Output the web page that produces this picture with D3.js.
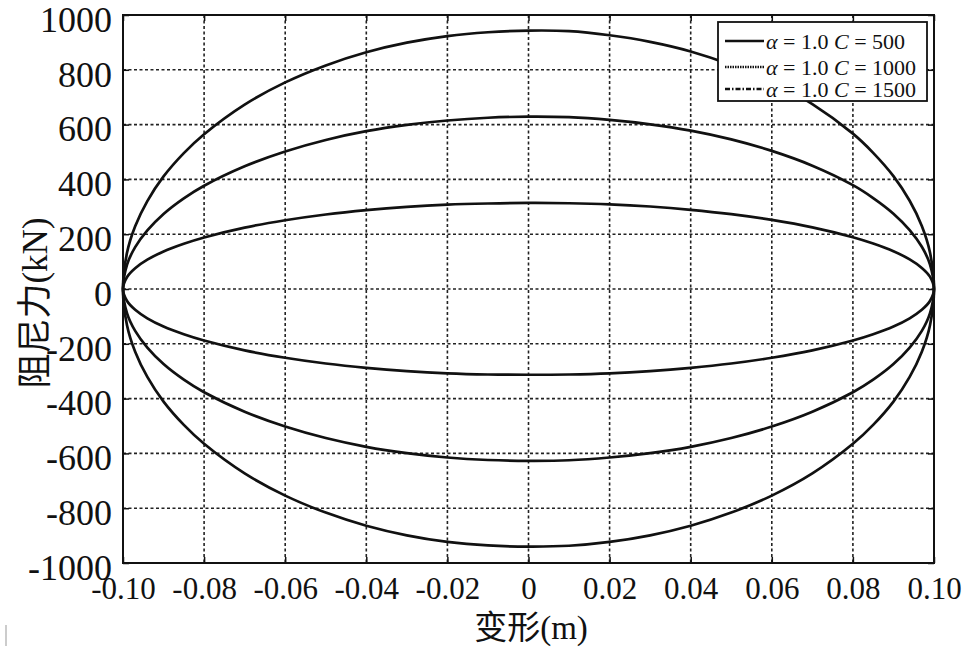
<!DOCTYPE html>
<html>
<head>
<meta charset="utf-8">
<script src="https://cdn.jsdelivr.net/npm/d3@7"></script>
<style>
  body { margin: 0; background: #fff; }
  svg { display: block; }
  text { font-family: "Liberation Serif", "Times New Roman", "Noto Sans CJK SC", serif; fill: #111; }
  .grid line { stroke: #222; stroke-width: 1.6; stroke-dasharray: 3,2.5; }
  .curve { fill: none; stroke: #111; stroke-width: 2.7; }
</style>
</head>
<body>
<svg width="965" height="650"></svg>
<script>
// deformation (m), read along the upper and lower branches
let xVals = [-0.1, -0.099, -0.097, -0.094, -0.09, -0.085, -0.08, -0.07, -0.06, -0.05, -0.04, -0.03, -0.02, -0.01,
  0, 0.01, 0.02, 0.03, 0.04, 0.05, 0.06, 0.07, 0.08, 0.085, 0.09, 0.094, 0.097, 0.099, 0.1];

// damping force (kN), upper branch
let c500Up = [0, 44, 76, 107, 137, 165, 188, 224, 251, 272, 288, 300, 308, 312,
  314, 313, 309, 301, 289, 273, 252, 225, 189, 166, 138, 108, 77, 45, 0];
let c1000Up = [0, 89, 153, 214, 274, 331, 377, 448, 502, 544, 576, 599, 615, 625,
  629, 627, 617, 601, 578, 546, 504, 450, 379, 332, 275, 215, 154, 90, 0];
let c1500Up = [0, 133, 229, 321, 411, 496, 565, 673, 754, 816, 864, 899, 923, 937,
  943, 941, 926, 902, 867, 818, 756, 675, 567, 497, 412, 322, 230, 134, 0];
// damping force (kN), lower branch
let c500Dn = [0, -44, -76, -107, -137, -165, -188, -224, -251, -272, -288, -300, -308, -312,
  -313, -312, -308, -300, -288, -272, -251, -224, -188, -165, -137, -107, -76, -44, 0];
let c1000Dn = [0, -89, -153, -214, -274, -331, -377, -448, -502, -544, -576, -599, -615, -624,
  -627, -625, -615, -599, -576, -544, -502, -448, -377, -331, -274, -214, -153, -89, 0];
let c1500Dn = [0, -133, -229, -321, -411, -496, -565, -673, -754, -816, -864, -899, -923, -936,
  -940, -937, -923, -899, -864, -816, -754, -673, -565, -496, -411, -321, -229, -133, 0];

let xTicks = [-0.1, -0.08, -0.06, -0.04, -0.02, 0, 0.02, 0.04, 0.06, 0.08, 0.1];
let yTicks = [-1000, -800, -600, -400, -200, 0, 200, 400, 600, 800, 1000];
let legendLabels = ["500", "1000", "1500"];
let legendDash = ["none", "1.5,1", "5,2,1.5,2"];

let serif = "'Liberation Serif', 'Times New Roman', 'Noto Sans CJK SC', serif";

let svg = d3.select("svg"),
    margin = {left: 123, top: 15, right: 31, bottom: 87},
    width = 965 - margin.left - margin.right,
    height = 650 - margin.top - margin.bottom;

let x = d3.scaleLinear().domain([-0.1, 0.1]).range([margin.left, margin.left + width]);
let y = d3.scaleLinear().domain([-1000, 1000]).range([margin.top + height, margin.top]);

// grid
let grid = svg.append("g").attr("class", "grid");
grid.selectAll(".gx").data(xTicks.slice(1, -1)).enter().append("line")
    .attr("x1", d => x(d)).attr("x2", d => x(d))
    .attr("y1", margin.top).attr("y2", margin.top + height);
grid.selectAll(".gy").data(yTicks.slice(1, -1)).enter().append("line")
    .attr("y1", d => y(d)).attr("y2", d => y(d))
    .attr("x1", margin.left).attr("x2", margin.left + width);

// curves
let series = [[c500Up, c500Dn], [c1000Up, c1000Dn], [c1500Up, c1500Dn]];
let line = d3.line()
    .x(d => x(d[0]))
    .y(d => y(d[1]))
    .curve(d3.curveCatmullRomClosed);

series.forEach(s => {
    let pts = xVals.map((v, i) => [v, s[0][i]]);
    let lower = xVals.map((v, i) => [v, s[1][i]]).reverse().slice(1, -1);
    svg.append("path")
        .attr("class", "curve")
        .attr("d", line(pts.concat(lower)));
});

// axes, ticks inward on all four sides
let fmtX = d => d === 0 ? "0" : d3.format(".2f")(d).replace("−", "-");
let fmtY = d => String(d);

let axB = svg.append("g").attr("transform", "translate(0," + (margin.top + height) + ")")
    .call(d3.axisBottom(x).tickValues(xTicks).tickSize(-6).tickPadding(14).tickFormat(fmtX));
let axT = svg.append("g").attr("transform", "translate(0," + margin.top + ")")
    .call(d3.axisTop(x).tickValues(xTicks).tickSize(-6).tickFormat(""));
let axL = svg.append("g").attr("transform", "translate(" + margin.left + ",0)")
    .call(d3.axisLeft(y).tickValues(yTicks).tickSize(-6).tickPadding(11).tickFormat(fmtY));
let axR = svg.append("g").attr("transform", "translate(" + (margin.left + width) + ",0)")
    .call(d3.axisRight(y).tickValues(yTicks).tickSize(-6).tickFormat(""));

[axB, axT, axL, axR].forEach(a => {
    a.attr("font-family", null).style("font-family", serif);
    a.select(".domain").remove();
    a.selectAll(".tick line").attr("stroke", "#111").attr("stroke-width", 1.5);
});
axB.selectAll("text").style("font-size", "31px").style("font-family", serif)
    .attr("dy", "0.71em").attr("fill", "#111");
axL.selectAll("text").style("font-size", "36px").style("font-family", serif)
    .attr("dy", "0.45em").attr("fill", "#111");

svg.append("rect")
    .attr("x", margin.left).attr("y", margin.top)
    .attr("width", width).attr("height", height)
    .attr("fill", "none").attr("stroke", "#111").attr("stroke-width", 2);

// axis titles
svg.append("text")
    .attr("x", 531).attr("y", 639)
    .attr("text-anchor", "middle")
    .style("font-size", "33px")
    .text("变形(m)");
svg.append("text")
    .attr("transform", "translate(47,303) rotate(-90)")
    .attr("text-anchor", "middle")
    .style("font-size", "35px")
    .text("阻尼力(kN)");

// legend
let lg = svg.append("g").attr("transform", "translate(718,22)");
lg.append("rect").attr("width", 209).attr("height", 79)
    .attr("fill", "#fff").attr("stroke", "#111").attr("stroke-width", 1.8);
let rows = lg.selectAll(".row").data(legendLabels).enter().append("g")
    .attr("transform", (d, i) => "translate(0," + [19, 45, 67][i] + ")");
rows.append("line")
    .attr("x1", 7).attr("x2", 46)
    .attr("stroke", "#111").attr("stroke-width", 2.6)
    .attr("stroke-dasharray", (d, i) => legendDash[i]);
let lt = rows.append("text").attr("x", 48).attr("y", 8).style("font-size", "22px");
lt.append("tspan").attr("font-style", "italic").text("α");
lt.append("tspan").text(" = 1.0 ");
lt.append("tspan").attr("font-style", "italic").text("C");
lt.append("tspan").text(d => " = " + d);

// stray mark at bottom left of the scan
svg.append("rect").attr("x", 5).attr("y", 625).attr("width", 2).attr("height", 21).attr("fill", "#ccc");
</script>
</body>
</html>
